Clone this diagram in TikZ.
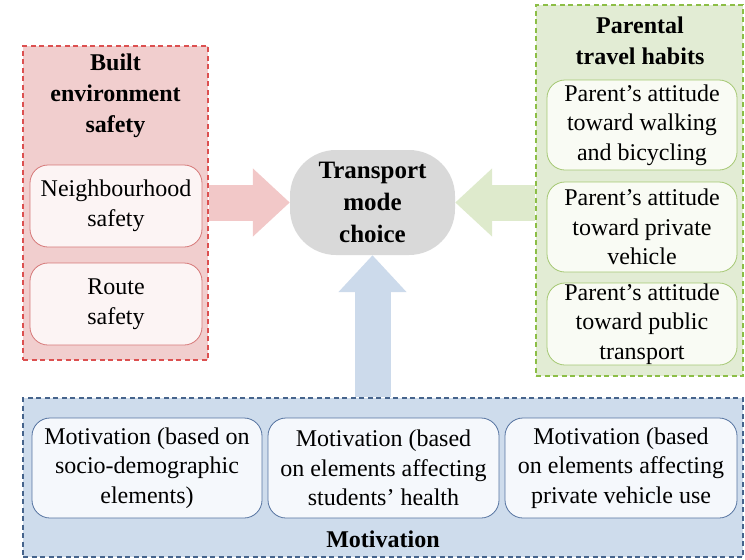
\documentclass[tikz,border=0pt]{standalone}
\usepackage{fontspec}
\setmainfont{Liberation Serif}
\usetikzlibrary{arrows.meta}

\definecolor{redfill}{RGB}{241,206,206}
\definecolor{redline}{RGB}{220,80,80}
\definecolor{redinner}{RGB}{252,244,244}
\definecolor{redinnerline}{RGB}{214,120,120}
\definecolor{redarrow}{RGB}{242,200,200}
\definecolor{greenfill}{RGB}{226,236,212}
\definecolor{greenline}{RGB}{140,190,70}
\definecolor{greeninner}{RGB}{249,251,244}
\definecolor{greeninnerline}{RGB}{165,200,115}
\definecolor{greenarrow}{RGB}{222,234,204}
\definecolor{bluefill}{RGB}{206,220,236}
\definecolor{blueline}{RGB}{70,100,140}
\definecolor{blueinner}{RGB}{245,248,252}
\definecolor{blueinnerline}{RGB}{85,115,160}
\definecolor{bluearrow}{RGB}{204,218,235}
\definecolor{choicefill}{RGB}{217,217,217}

\tikzset{
  groupbox/.style={draw=#1line, fill=#1fill, line width=1.3pt,
    dash pattern=on 5pt off 3.5pt, inner sep=0pt},
  itembox/.style={draw=#1innerline, fill=#1inner, line width=0.8pt,
    rounded corners=18pt, align=center, inner sep=0pt,
    font=\fontsize{24}{29.5}\selectfont},
  grouptitle/.style={align=center, inner sep=0pt,
    font=\bfseries\fontsize{24}{31}\selectfont},
  blockarrow/.style={draw=#1arrow, line width=36pt,
    -{Triangle[length=37pt,width=66pt]}},
}

\begin{document}
\begin{tikzpicture}[x=1pt,y=-1pt]
\useasboundingbox (0,0) rectangle (745,560);

% group frames
\node[groupbox=red, minimum width=185pt, minimum height=314pt] (built) at (115.5,203) {};
\node[groupbox=green, minimum width=207pt, minimum height=371pt] (parent) at (639.5,190.5) {};
\node[groupbox=blue, minimum width=720pt, minimum height=159pt] (motiv) at (383,477.5) {};

% group titles
\node[grouptitle] (builttitle) at (115.5,96) {Built\\environment\\safety};
\node[grouptitle] (parenttitle) at (640,41) {Parental\\travel habits};
\node[grouptitle] (motivtitle) at (383,539) {Motivation};

% built environment items
\node[itembox=red, minimum width=172pt, minimum height=82pt] (neigh) at (116,206) {Neighbourhood\\safety};
\node[itembox=red, minimum width=172pt, minimum height=82pt] (route) at (116,304) {Route\\safety};

% parental habit items
\node[itembox=green, minimum width=190pt, minimum height=90pt] (walk) at (642,125) {Parent’s attitude\\toward walking\\and bicycling};
\node[itembox=green, minimum width=190pt, minimum height=90pt] (car) at (642,227) {Parent’s attitude\\toward private\\vehicle};
\node[itembox=green, minimum width=190pt, minimum height=82pt] (public) at (642,324) {Parent’s attitude\\toward public\\transport};

% motivation items
\node[itembox=blue, minimum width=230pt, minimum height=100pt] (socio) at (147,468) {Motivation (based on\\socio-demographic\\elements)};
\node[itembox=blue, minimum width=231pt, minimum height=100pt] (health) at (383.5,468) {Motivation (based\\on elements affecting\\students’ health};
\node[itembox=blue, minimum width=232pt, minimum height=100pt] (vehicle) at (621,468) {Motivation (based\\on elements affecting\\private vehicle use};

% central outcome
\node[fill=choicefill, rounded corners=46pt, minimum width=165pt, minimum height=105pt,
  align=center, inner sep=0pt, font=\bfseries\fontsize{25}{32}\selectfont] (choice) at (372.5,202.5)
  {Transport\\mode\\choice};

% block arrows into the outcome
\draw[blockarrow=red] (built.east |- choice) -- (choice.west);
\draw[blockarrow=green] (parent.west |- choice) -- (choice.east);
\draw[blockarrow=blue] (motiv.north -| choice) -- (choice.south);
\end{tikzpicture}
\end{document}
